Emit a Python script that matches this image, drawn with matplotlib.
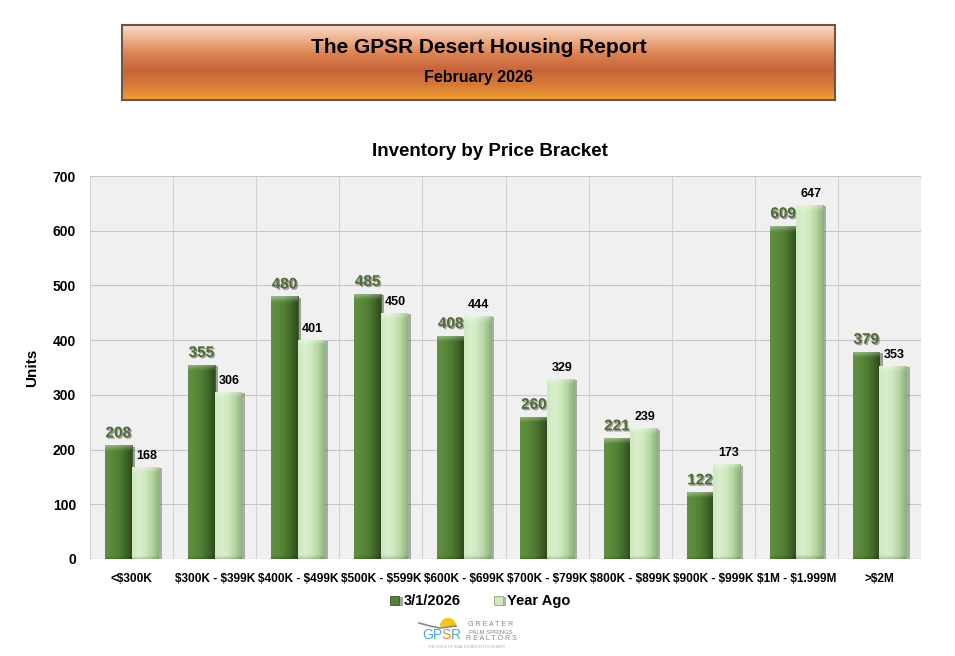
import numpy as np
import matplotlib
matplotlib.use("Agg")
import matplotlib.pyplot as plt
import matplotlib.patheffects as pe
from matplotlib.colors import LinearSegmentedColormap, to_rgb
from matplotlib.patches import Wedge

# Chart data
brackets = ["<$300K", "$300K - $399K", "$400K - $499K", "$500K - $599K", "$600K - $699K",
            "$700K - $799K", "$800K - $899K", "$900K - $999K", "$1M - $1.999M", ">$2M"]
current = [208, 355, 480, 485, 408, 260, 221, 122, 609, 379]
year_ago = [168, 306, 401, 450, 444, 329, 239, 173, 647, 353]
series_names = ["3/1/2026", "Year Ago"]
y_ticks = [0, 100, 200, 300, 400, 500, 600, 700]

DARK = "#548235"
LIGHT = "#cfe9bf"
LABEL_DARK = "#4e6b35"

plt.rcParams['font.family'] = ['Liberation Sans', 'DejaVu Sans']


def esc(s):
    return s.replace("$", r"\$")


def bar_image(stops, height, bevel=10.0, ny=120, nx=40):
    # horizontal shading across the bar, lighter bevel at the top
    cols = np.array([to_rgb(c) for c in stops])
    xs = np.linspace(0, 1, nx)
    pos = np.linspace(0, 1, len(cols))
    row = np.stack([np.interp(xs, pos, cols[:, k]) for k in range(3)], axis=-1)
    img = np.repeat(row[None, :, :], ny, axis=0)
    ys = np.linspace(height, 0, ny)
    top = np.clip((ys - (height - bevel)) / bevel, 0, 1)[:, None, None]
    bot = np.clip((bevel * 0.5 - ys) / (bevel * 0.5), 0, 1)[:, None, None]
    img = img * (1 - 0.35 * top) + 0.35 * top
    img = img * (1 - 0.15 * bot)
    return np.clip(img, 0, 1)


fig = plt.figure(figsize=(9.55, 6.56), dpi=100)
W, H = 955, 656

# Header banner with orange gradient
hdr = fig.add_axes([122 / W, 1 - 100 / H, (835 - 122) / W, 75 / H])
grad = LinearSegmentedColormap.from_list(
    "hdr", ["#f9dccb", "#eeae88", "#d9804f", "#c8643a", "#d77a38", "#f0a030"])
hdr.imshow(np.linspace(0, 1, 256).reshape(-1, 1), aspect="auto", cmap=grad,
           extent=[0, 1, 0, 1])
hdr.set_xticks([])
hdr.set_yticks([])
for s in hdr.spines.values():
    s.set_color("#6e5546")
    s.set_linewidth(1.5)
hdr.text(0.5, 0.70, "The GPSR Desert Housing Report", ha="center", va="center",
         fontsize=15, fontweight="bold", transform=hdr.transAxes)
hdr.text(0.5, 0.30, "February 2026", ha="center", va="center",
         fontsize=11.5, fontweight="bold", transform=hdr.transAxes)

# Main chart
ax = fig.add_axes([90 / W, 1 - 559 / H, (921 - 90) / W, (559 - 176) / H])
ax.set_facecolor("#f0f0f0")
x = np.arange(len(brackets))
bw = 0.32
shadow = [pe.SimplePatchShadow(offset=(2.5, -1), alpha=0.4), pe.Normal()]
dark_stops = ["#5f9140", "#5a8a3a", "#527f34", "#42692a", "#2e4a1c"]
light_stops = ["#cfe9bf", "#d9efcc", "#cfe8bf", "#b5d6a2", "#8fb47c"]

b1 = ax.bar(x - bw / 2, current, bw, color=DARK, edgecolor="#3a5a24",
            linewidth=0.6, zorder=3, label=series_names[0])
b2 = ax.bar(x + bw / 2, year_ago, bw, color=LIGHT, edgecolor="#8aa87a",
            linewidth=0.6, zorder=3, label=series_names[1])
for bars, vals, stops in [(b1, current, dark_stops), (b2, year_ago, light_stops)]:
    for b, v in zip(bars, vals):
        b.set_path_effects(shadow)
        x0 = b.get_x()
        im = ax.imshow(bar_image(stops, v), extent=[x0, x0 + bw, 0, v],
                       aspect="auto", zorder=3.5, interpolation="bilinear")
        im.set_clip_path(b)

for xi, v in zip(x, current):
    ax.text(xi - bw / 2, v + 9, str(v), ha="center", va="bottom", fontsize=11,
            fontweight="bold", color=LABEL_DARK,
            path_effects=[pe.withSimplePatchShadow(offset=(1, -1), alpha=0.45,
                                                   shadow_rgbFace="#333333")])
for xi, v in zip(x, year_ago):
    ax.text(xi + bw / 2 + 0.02, v + 9, str(v), ha="center", va="bottom", fontsize=9,
            fontweight="bold", color="black")

ax.set_xlim(-0.5, len(brackets) - 0.5)
ax.set_ylim(0, 700)
ax.set_yticks(y_ticks)
ax.set_yticklabels([str(t) for t in y_ticks], fontsize=10, fontweight="bold")
ax.set_xticks(x)
ax.set_xticklabels([esc(b) for b in brackets], fontsize=8.6, fontweight="bold")
ax.set_xticks(np.arange(-0.5, len(brackets), 1), minor=True)
ax.tick_params(axis="x", which="both", length=0, pad=10)
ax.tick_params(axis="y", length=0, pad=10)
ax.grid(axis="y", color="#c8c8c8", linewidth=0.8, zorder=0)
ax.grid(axis="x", which="minor", color="#d0d0d0", linewidth=0.8, zorder=0)
ax.grid(axis="x", which="major", visible=False)
for s in ax.spines.values():
    s.set_visible(False)
ax.set_ylabel("Units", fontsize=11, fontweight="bold", labelpad=10)
fig.text(490 / W, 1 - 152 / H, "Inventory by Price Bracket", ha="center", va="center",
         fontsize=13.5, fontweight="bold")

leg = ax.legend(loc="upper center", bbox_to_anchor=(0.47, -0.058), ncol=2,
                frameon=False, handlelength=0.6, handleheight=0.6,
                columnspacing=2.3, handletextpad=0.3,
                prop={"weight": "bold", "size": 10.5})

# Logo approximation
logo = fig.add_axes([410 / W, 1 - 652 / H, 115 / W, 40 / H])
logo.set_xlim(410, 525)
logo.set_ylim(652, 612)
logo.axis("off")
logo.add_patch(Wedge((448, 626), 7.5, 180, 360, color="#f5c518"))
logo.plot([419, 430, 440, 456], [623, 626, 628, 626], color="#888888", lw=1.2)

fig.canvas.draw()
renderer = fig.canvas.get_renderer()
cursor = 422
for letters, col in [("GP", "#4da6d6"), ("S", "#e8892a"), ("R", "#4da6d6")]:
    t = logo.text(cursor, 635, letters, color=col, fontsize=10, va="center", ha="left")
    bb = t.get_window_extent(renderer)
    cursor += bb.width - 0.5
logo.text(491, 625, "G R E A T E R", color="#888888", fontsize=5, ha="center", va="center")
logo.text(491, 632, "PALM SPRINGS", color="#888888", fontsize=4.2, ha="center", va="center")
logo.text(491, 639, "R E A L T O R S", color="#888888", fontsize=5, ha="center", va="center")
logo.text(467, 647, "THE VOICE OF REAL ESTATE IN THE DESERT", color="#aaaaaa",
          fontsize=2.6, ha="center", va="center")

fig.savefig("out.png", dpi=100)
